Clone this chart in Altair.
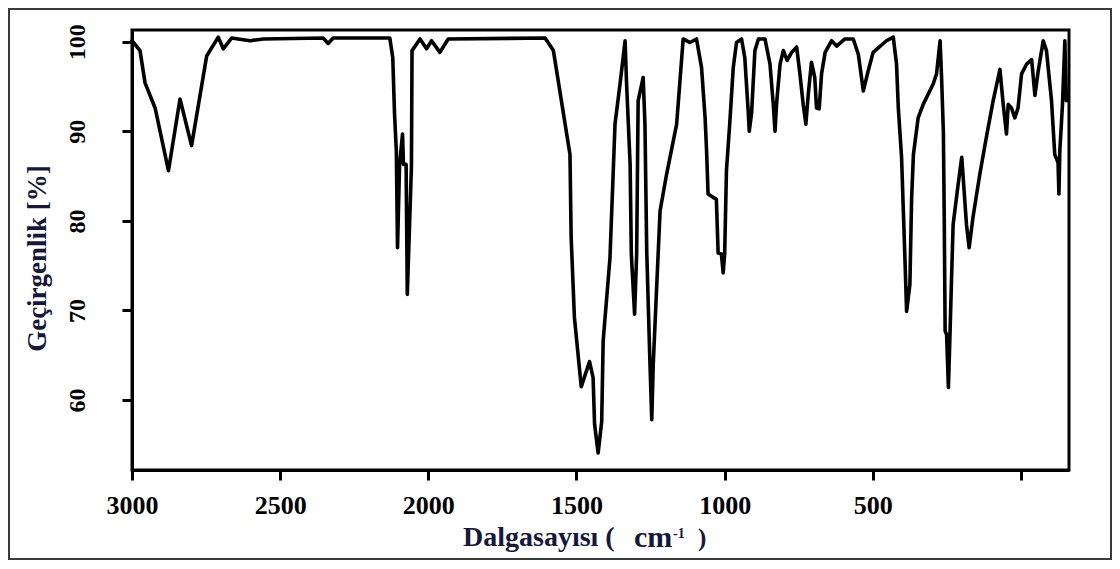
import altair as alt
import pandas as pd

wavenumber = [
    3000, 2973, 2956, 2922, 2877, 2838, 2799, 2748, 2709, 2692, 2664, 2602, 2557,
    2355, 2338, 2321, 2130, 2120, 2114, 2108, 2104, 2097, 2087, 2084, 2075, 2071,
    2057, 2055, 2028, 2006, 1989, 1961, 1933, 1606, 1578, 1522, 1518, 1507, 1484,
    1456, 1444, 1439, 1427, 1415, 1410, 1387, 1370, 1353, 1336, 1331, 1319, 1315,
    1304, 1297, 1292, 1275, 1269, 1263, 1252, 1246, 1241, 1230, 1218, 1196, 1162,
    1140, 1117, 1095, 1078, 1066, 1061, 1056, 1028, 1022, 1011, 1005, 1000, 994,
    983, 971, 960, 943, 932, 920, 917, 909, 898, 886, 864, 847, 836, 830, 825,
    813, 802, 789, 774, 757, 746, 735, 726, 718, 707, 696, 690, 681, 673, 661,
    639, 622, 594, 566, 549, 532, 516, 499, 454, 431, 420, 414, 403, 397, 391,
    386, 375, 369, 363, 347, 330, 296, 285, 273, 268, 262, 259, 256, 251, 245,
    240, 234, 229, 212, 200, 195, 184, 175, 162, 139, 117, 94, 71, 60, 49, 43,
    32, 21, 10, -2, -19, -36, -47, -58, -75, -86, -103, -114, -125, -128, -131,
    -140, -148, -153,
]
transmittance = [
    100.1, 99.0, 95.4, 92.6, 85.6, 93.6, 88.4, 98.4, 100.5, 99.2, 100.4, 100.1, 100.3,
    100.4, 99.8, 100.4, 100.4, 98.2, 91.9, 87.8, 77.0, 86.3, 89.7, 86.3, 86.3, 71.8,
    86.1, 99.0, 100.3, 99.2, 100.1, 98.8, 100.3, 100.4, 99.0, 87.4, 78.1, 69.2, 61.5,
    64.3, 62.5, 57.3, 54.1, 57.6, 66.6, 75.9, 90.8, 95.3, 100.1, 95.3, 86.3, 76.3,
    69.6, 76.3, 93.4, 96.0, 90.8, 76.6, 64.0, 57.8, 64.0, 72.2, 81.1, 85.2, 90.8,
    100.3, 99.9, 100.3, 97.1, 91.5, 87.8, 83.0, 82.4, 76.4, 76.3, 74.2, 76.3, 85.6,
    90.8, 97.1, 99.9, 100.3, 98.2, 91.9, 90.0, 92.1, 99.0, 100.3, 100.3, 97.5, 93.0, 90.0, 93.0,
    97.5, 99.0, 97.9, 98.8, 99.4, 96.4, 93.0, 90.8, 94.1, 97.7, 96.0, 92.6, 92.5, 96.4, 98.8,
    100.1, 99.5, 100.3, 100.3, 98.6, 94.5, 96.7, 98.8, 100.1, 100.5, 97.5, 92.6, 87.1, 81.1, 75.1,
    69.9, 72.9, 82.6, 87.4, 91.5, 93.0, 95.3, 96.4, 100.1, 96.0, 90.0, 80.4, 67.7, 67.3, 61.4,
    66.9, 74.0, 79.6, 84.1, 87.1, 84.8, 79.6, 77.0, 80.4, 85.2, 89.3, 93.4, 96.9, 93.0, 89.7, 93.0,
    92.6, 91.5, 92.6, 96.4, 97.5, 98.0, 94.0, 96.7, 100.1, 99.0, 93.4, 87.4, 86.5, 83.0, 87.8,
    93.0, 100.1, 93.4,
]
x_ticks = [3000, 2500, 2000, 1500, 1000, 500, 0]
y_ticks = [60, 70, 80, 90, 100]

df = pd.DataFrame({"wn": wavenumber, "t": transmittance, "idx": range(len(wavenumber))})

FONT = "Liberation Serif"
W, H = 937, 440
TITLE_COLOR = "#15183a"

line = alt.Chart(df).mark_line(
    color="black", strokeWidth=3.6, strokeJoin="round", strokeCap="round"
).encode(
    x=alt.X(
        "wn:Q",
        scale=alt.Scale(domain=[-162, 3000], reverse=True, nice=False, zero=False),
        axis=alt.Axis(
            values=x_ticks,
            format="d",
            labelExpr="datum.value == 0 ? '' : datum.label",
            title=None,
            labelFont=FONT,
            labelFontWeight="bold",
            labelFontSize=26,
            labelBaseline="alphabetic",
            labelPadding=33,
            labelFlush=False,
            labelOverlap=False,
            grid=False,
        ),
    ),
    y=alt.Y(
        "t:Q",
        scale=alt.Scale(domain=[52.2, 101.3], nice=False, zero=False),
        axis=alt.Axis(
            values=y_ticks,
            title="Geçirgenlik [%]",
            titleFont=FONT,
            titleFontWeight="bold",
            titleColor=TITLE_COLOR,
            titleAngle=270,
            titleX=-95,
            titleY=228,
            titleAlign="center",
            titleBaseline="middle",
            titleFontSize=27,
            labelFont=FONT,
            labelFontWeight="bold",
            labelAngle=270,
            labelAlign="center",
            labelBaseline="alphabetic",
            labelFontSize=24,
            labelPadding=38,
            labelFlush=False,
            grid=False,
        ),
    ),
    order="idx:Q",
)

one = alt.Data(values=[{}])

frame = alt.Chart(one).mark_rect(
    fill=None, stroke="#3a3a3a", strokeWidth=2, clip=False
).encode(
    x=alt.value(-123), x2=alt.value(979), y=alt.value(-21), y2=alt.value(529)
)

def label(txt, x, y, size, weight="bold"):
    return alt.Chart(one).mark_text(
        font=FONT, fontSize=size, fontWeight=weight, color=TITLE_COLOR,
        align="left", baseline="alphabetic", clip=False,
    ).encode(text=alt.value(txt), x=alt.value(x), y=alt.value(y))

xtitle = [
    label("Dalgasayısı (", 331, 516, 28),
    label("cm", 502, 517, 30),
    label("-1", 541, 508, 14),
    label(")", 566, 516, 25),
]

chart = alt.layer(frame, line, *xtitle).properties(
    width=W, height=H,
    autosize=alt.AutoSizeParams(type="none"),
    padding={"left": 124, "top": 22, "right": 43, "bottom": 91},
).configure_view(
    stroke="black", strokeWidth=3
).configure_axis(
    domainColor="black", domainWidth=3, tickColor="black", tickWidth=3, tickSize=10,
    labelColor="black",
)

chart.save("out.html", embed_options={"renderer": "svg", "actions": False})
